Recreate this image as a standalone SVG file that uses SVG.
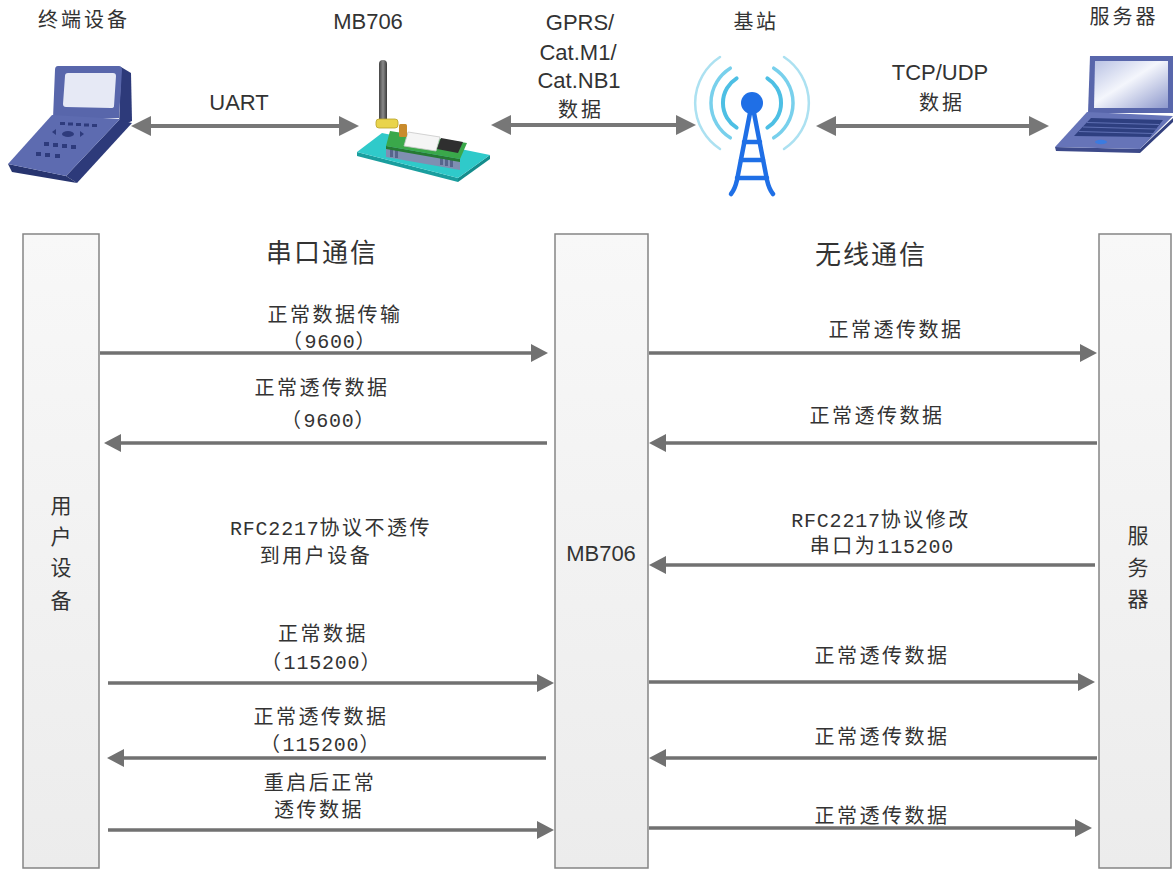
<svg xmlns="http://www.w3.org/2000/svg" width="1174" height="870" viewBox="0 0 1174 870">
  <style>
    .lbl { font-family: "Noto Sans CJK SC", sans-serif; font-size: 20px; fill: #333; letter-spacing: 3px; text-anchor: middle; }
    .lat { font-family: "Liberation Sans", "Noto Sans CJK SC", sans-serif; font-size: 22px; fill: #333; text-anchor: middle; }
    .head { font-family: "Noto Sans CJK SC", sans-serif; font-size: 26px; fill: #333; letter-spacing: 2px; text-anchor: middle; }
    .seq { font-family: "Liberation Mono", "Noto Sans CJK SC", monospace; font-size: 20px; fill: #333; letter-spacing: 2.5px; text-anchor: middle; }
    .num { letter-spacing: 0.8px; }
    .vert { font-family: "Noto Sans CJK SC", sans-serif; font-size: 21px; fill: #333; text-anchor: middle; }
    .bar { fill: url(#barFill); stroke: #858585; stroke-width: 1.5; }
    .msg { stroke: #717171; stroke-width: 3.5; fill: none; marker-end: url(#head); }
    .link { stroke: #777; stroke-width: 4; fill: none; marker-start: url(#bigHead); marker-end: url(#bigHead); }
  </style>
  <defs>
    <marker id="head" markerUnits="userSpaceOnUse" markerWidth="17" markerHeight="18" refX="13" refY="9" orient="auto">
      <path d="M0,0 L17,9 L0,18 z" fill="#717171"/>
    </marker>
    <marker id="bigHead" markerUnits="userSpaceOnUse" markerWidth="20" markerHeight="20" refX="16" refY="10" orient="auto-start-reverse">
      <path d="M0,0 L20,10 L0,20 z" fill="#777"/>
    </marker>
    <linearGradient id="barFill" x1="0" y1="0" x2="0" y2="1">
      <stop offset="0" stop-color="#f8f8f8"/>
      <stop offset="1" stop-color="#ececec"/>
    </linearGradient>
    <linearGradient id="lcd" x1="0" y1="0" x2="1" y2="1">
      <stop offset="0" stop-color="#b9c2e4"/>
      <stop offset="0.45" stop-color="#f4f6fc"/>
      <stop offset="1" stop-color="#8d98cc"/>
    </linearGradient>
    <linearGradient id="rod" x1="0" y1="0" x2="1" y2="0">
      <stop offset="0" stop-color="#444"/>
      <stop offset="0.5" stop-color="#8a8a8a"/>
      <stop offset="1" stop-color="#3a3a3a"/>
    </linearGradient>
  </defs>

  <!-- top row: devices -->
  <g id="terminal">
    <text class="lbl" x="84" y="27">终端设备</text>
    <!-- screen housing -->
    <path d="M121,67 L131,73 L132,121 L119,127 Z" fill="#2d3a7a"/>
    <path d="M58,66 L119,66 Q122,66 122,70 L119,118 L53,118 L55,70 Q55,66 58,66 Z" fill="#5866ab"/>
    <path d="M68,73 L113,73 Q116,73 116,76 L114,106 Q114,108 111,108 L66,107 Q63,107 63,104 L65,76 Q65,73 68,73 Z" fill="#e6e9f5"/>
    <!-- keypad body -->
    <path d="M119,120 L132,123 L77,183 L66,176 Z" fill="#2d3a7a"/>
    <path d="M8,164 L66,176 L77,183 L12,172 Z" fill="#27346f"/>
    <path d="M52,115 L120,119 L66,176 L8,164 Z" fill="#5d6bb0"/>
    <g fill="#2e3b7c">
      <rect x="60" y="122" width="5" height="3"/>
      <rect x="68" y="122.5" width="5" height="3"/>
      <rect x="76" y="123" width="5" height="3"/>
      <rect x="84" y="123.5" width="5" height="3"/>
      <rect x="92" y="124" width="5" height="3"/>
      <ellipse cx="68" cy="134" rx="6" ry="3"/>
      <path d="M52,132 L56,129 L56,135 Z"/>
      <path d="M84,134 L80,131 L80,137 Z"/>
      <rect x="44" y="142" width="5" height="4"/>
      <rect x="53" y="143" width="5" height="4"/>
      <rect x="62" y="144" width="5" height="4"/>
      <rect x="71" y="145" width="5" height="4"/>
      <rect x="36" y="152" width="5" height="4"/>
      <rect x="45" y="153" width="5" height="4"/>
      <rect x="55" y="154" width="5" height="4"/>
    </g>
  </g>

  <g id="mb706-device">
    <text class="lat" x="368" y="29">MB706</text>
    <!-- base plate -->
    <path d="M357,152 L458,178 L458,182 L357,156 Z" fill="#1a9e9e"/>
    <path d="M458,178 L490,155 L490,159 L458,182 Z" fill="#148c8c"/>
    <path d="M382,133 L490,155 L458,178 L357,152 Z" fill="#2fcaca"/>
    <!-- module body under the PCB -->
    <path d="M386,146 L460,159 L460,170 L386,157 Z" fill="#7f8fb2"/>
    <g fill="#56658c">
      <rect x="390" y="149" width="3" height="8"/>
      <rect x="395" y="150" width="3" height="8"/>
      <rect x="440" y="157" width="3" height="8"/>
      <rect x="445" y="158" width="3" height="8"/>
      <rect x="450" y="159" width="3" height="8"/>
    </g>
    <!-- pcb -->
    <path d="M386,146 L460,159 L460,162 L386,149 Z" fill="#257a33"/>
    <path d="M390,131 L467,143 L460,159 L386,146 Z" fill="#3aa84a"/>
    <path d="M408,132 L440,137 L436,151 L404,146 Z" fill="#f5f5f5" stroke="#c8c8c8" stroke-width="0.8"/>
    <path d="M441,138 L463,142 L458,153 L437,149 Z" fill="#2f2f2f"/>
    <!-- antenna and connectors -->
    <rect x="379" y="60" width="8" height="63" rx="4" fill="url(#rod)"/>
    <rect x="376" y="119" width="22" height="9" rx="3" fill="#e9d44c" stroke="#b8a22a" stroke-width="0.8"/>
    <rect x="399" y="124" width="8" height="13" rx="1.5" fill="#c98b2c"/>
  </g>

  <g id="base-station">
    <text class="lbl" x="756" y="29" style="letter-spacing:2.5px">基站</text>
    <g fill="none" stroke-linecap="round">
      <path d="M736.6,78.4 A29,29 0 0 0 736.6,127.6" stroke="#4dbfe4" stroke-width="4"/>
      <path d="M767.4,78.4 A29,29 0 0 1 767.4,127.6" stroke="#4dbfe4" stroke-width="4"/>
      <path d="M730.3,68.2 A41,41 0 0 0 730.3,137.8" stroke="#78d0ec" stroke-width="3.5"/>
      <path d="M773.7,68.2 A41,41 0 0 1 773.7,137.8" stroke="#78d0ec" stroke-width="3.5"/>
      <path d="M720,57 A55,55 0 0 0 720,149" stroke="#ace1f1" stroke-width="2.5"/>
      <path d="M784,57 A55,55 0 0 1 784,149" stroke="#ace1f1" stroke-width="2.5"/>
    </g>
    <circle cx="752" cy="103" r="11" fill="#1f6fe6"/>
    <g fill="none" stroke="#1f6fe6" stroke-width="4.5" stroke-linecap="round">
      <path d="M750,113 L737,180 Q735,189 731,194"/>
      <path d="M754,113 L767,180 Q769,189 773,194"/>
      <path d="M744,142 L760,142"/>
      <path d="M741,160 L763,160"/>
      <path d="M737,178 L767,178"/>
    </g>
  </g>

  <g id="server-device">
    <text class="lbl" x="1124" y="24">服务器</text>
    <!-- lid -->
    <path d="M1090,56 L1173,56 L1173,113 L1088,113 Z" fill="#5866ab"/>
    <path d="M1095,61 L1168,61 L1168,108 L1094,108 Z" fill="url(#lcd)"/>
    <!-- base -->
    <path d="M1055,147 L1140,149 L1140,153 L1056,151 Z" fill="#3d4a8a"/>
    <path d="M1140,149 L1173,118 L1173,122 L1140,153 Z" fill="#33407e"/>
    <path d="M1087,112 L1173,116 L1140,149 L1055,147 Z" fill="#6674b8"/>
    <path d="M1091,118 L1163,120 L1150,137 L1074,136 Z" fill="#2e3f80"/>
    <g stroke="#6b7bbf" stroke-width="0.8">
      <line x1="1087" y1="122.5" x2="1159" y2="124.5"/>
      <line x1="1083" y1="127" x2="1156" y2="129"/>
      <line x1="1079" y1="131.5" x2="1153" y2="133.5"/>
    </g>
    <ellipse cx="1101" cy="142" rx="6" ry="2.2" fill="#3b7be0"/>
  </g>

  <!-- top links and their labels -->
  <g id="links">
    <line class="link" x1="135" y1="126" x2="355" y2="126"/>
    <line class="link" x1="495" y1="125" x2="692" y2="125"/>
    <line class="link" x1="820" y1="126" x2="1045" y2="126"/>
    <text class="lat" x="239" y="110">UART</text>
    <text class="lat" x="580" y="30">GPRS/</text>
    <text class="lat" x="578" y="60">Cat.M1/</text>
    <text class="lat" x="579" y="88">Cat.NB1</text>
    <text class="lbl" x="581" y="117">数据</text>
    <text class="lat" x="940" y="80">TCP/UDP</text>
    <text class="lbl" x="942" y="110">数据</text>
  </g>

  <!-- lifelines -->
  <g id="user-device">
    <rect class="bar" x="23" y="234" width="76" height="634"/>
    <text class="vert" x="61" y="513">用</text>
    <text class="vert" x="61" y="544">户</text>
    <text class="vert" x="61" y="575">设</text>
    <text class="vert" x="61" y="608">备</text>
  </g>
  <g id="mb706">
    <rect class="bar" x="555" y="234" width="93" height="634"/>
    <text class="lat" x="601" y="561">MB706</text>
  </g>
  <g id="server">
    <rect class="bar" x="1099" y="234" width="72" height="634"/>
    <text class="vert" x="1138" y="543">服</text>
    <text class="vert" x="1138" y="575">务</text>
    <text class="vert" x="1138" y="606">器</text>
  </g>

  <text class="head" x="322" y="262">串口通信</text>
  <text class="head" x="871" y="264">无线通信</text>

  <!-- messages -->
  <g id="messages">
    <line class="msg" x1="100" y1="353" x2="544" y2="353"/>
    <line class="msg" x1="649" y1="353" x2="1093" y2="353"/>
    <line class="msg" x1="547" y1="443" x2="108" y2="443"/>
    <line class="msg" x1="1097" y1="443" x2="653" y2="443"/>
    <line class="msg" x1="1095" y1="565" x2="653" y2="565"/>
    <line class="msg" x1="108" y1="683" x2="550" y2="683"/>
    <line class="msg" x1="649" y1="682" x2="1091" y2="682"/>
    <line class="msg" x1="546" y1="758" x2="111" y2="758"/>
    <line class="msg" x1="1097" y1="758" x2="653" y2="758"/>
    <line class="msg" x1="108" y1="830" x2="550" y2="830"/>
    <line class="msg" x1="649" y1="828" x2="1088" y2="828"/>
  </g>

  <g id="message-labels">
    <text class="seq" x="335" y="322">正常数据传输</text>
    <text class="seq" x="330" y="348">（<tspan class="num">9600</tspan>）</text>
    <text class="seq" x="322" y="395">正常透传数据</text>
    <text class="seq" x="329" y="427">（<tspan class="num">9600</tspan>）</text>
    <text class="seq" x="331" y="535"><tspan class="num">RFC2217</tspan>协议不透传</text>
    <text class="seq" x="316" y="563">到用户设备</text>
    <text class="seq" x="323" y="641">正常数据</text>
    <text class="seq" x="322" y="669">（<tspan class="num">115200</tspan>）</text>
    <text class="seq" x="321" y="724">正常透传数据</text>
    <text class="seq" x="321" y="751">（<tspan class="num">115200</tspan>）</text>
    <text class="seq" x="320" y="790">重启后正常</text>
    <text class="seq" x="319" y="817">透传数据</text>

    <text class="seq" x="896" y="337">正常透传数据</text>
    <text class="seq" x="877" y="423">正常透传数据</text>
    <text class="seq" x="881" y="527"><tspan class="num">RFC2217</tspan>协议修改</text>
    <text class="seq" x="882" y="553">串口为<tspan class="num">115200</tspan></text>
    <text class="seq" x="882" y="663">正常透传数据</text>
    <text class="seq" x="882" y="744">正常透传数据</text>
    <text class="seq" x="882" y="823">正常透传数据</text>
  </g>
</svg>
